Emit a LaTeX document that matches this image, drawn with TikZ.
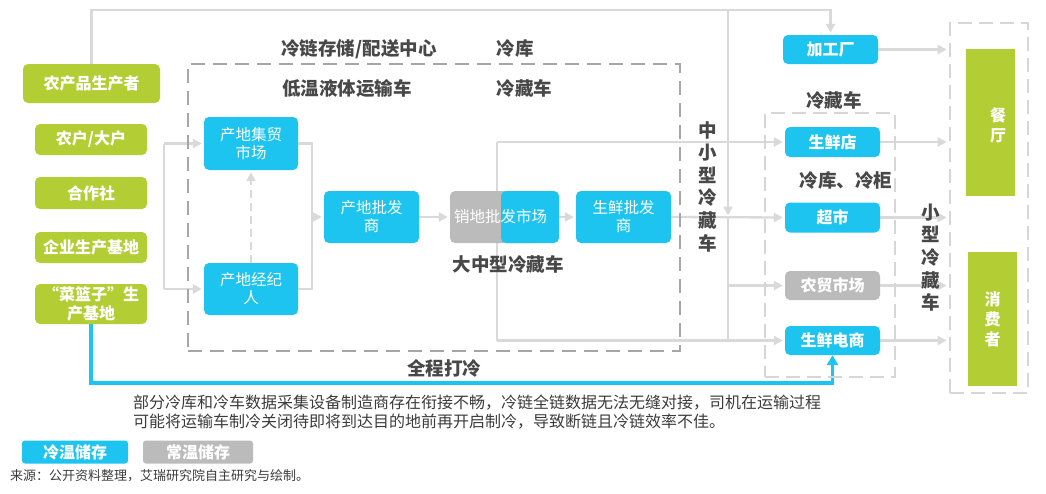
\documentclass[tikz,border=0pt]{standalone}
\usepackage{fontspec}
\setmainfont{Noto Sans CJK SC}
\usetikzlibrary{arrows.meta,backgrounds}
\definecolor{cgreen}{RGB}{178,206,52}
\definecolor{cblue}{RGB}{30,196,240}
\definecolor{cgray}{RGB}{187,187,187}
\definecolor{cline}{RGB}{217,217,217}
\definecolor{cdash}{RGB}{166,166,166}
\definecolor{cdashl}{RGB}{214,214,214}
\definecolor{ctext}{RGB}{72,72,72}
\definecolor{cbody}{RGB}{60,60,60}
\begin{document}
\begin{tikzpicture}[x=1pt,y=-1pt,
  box/.style={rounded corners=5pt, inner sep=0pt, text=white, align=center,
    font=\fontsize{15.5}{18}\selectfont},
  gbox/.style={box, fill=cgreen, font=\fontsize{16}{19}\selectfont\bfseries},
  bbox/.style={box, fill=cblue},
  graybox/.style={box, fill=cgray},
  lab/.style={inner sep=0pt, text=ctext, font=\fontsize{18.5}{22.6}\selectfont\bfseries, align=center},
  conn/.style={draw=cline, line width=2.3pt},
  arr/.style={-{Triangle[length=9pt,width=9pt]}, shorten >=2pt},
  bline/.style={draw=cblue, line width=3.2pt, -{Triangle[length=10pt,width=11pt]}},
  bigdash/.style={draw=cdash, line width=2.8pt, dash pattern=on 14pt off 8pt, inner sep=0pt},
  lightdash/.style={draw=cdashl, line width=2.8pt, dash pattern=on 14pt off 7pt, inner sep=0pt}
]
\useasboundingbox (0,0) rectangle (1046,493);
% dashed regions
\node[bigdash, minimum width=492pt, minimum height=287pt] (center) at (434,207.5) {};
\node[lightdash, minimum width=130pt, minimum height=264pt] (sbox) at (830,245) {};
\node[lightdash, minimum width=78pt, minimum height=370pt] (cbox) at (989,208) {};
% producers
\node[gbox, minimum width=137pt, minimum height=39pt] (p0) at (91.5,83.5) {农产品生产者};
\node[gbox, minimum width=112pt, minimum height=31pt] (p1) at (91,139.5) {农户/大户};
\node[gbox, minimum width=112pt, minimum height=32pt] (p2) at (91,193) {合作社};
\node[gbox, minimum width=112pt, minimum height=31pt] (p3) at (91,247.5) {企业生产基地};
\node[gbox, minimum width=112pt, minimum height=40pt, font=\fontsize{16}{19}\selectfont\bfseries] (p4) at (91,304) {“菜篮子”生\\产基地};
% chain nodes
\node[bbox, minimum width=94pt, minimum height=53pt] (b1) at (251,143.5) {产地集贸\\市场};
\node[bbox, minimum width=94pt, minimum height=52pt] (b2) at (251,289) {产地经纪\\人};
\node[bbox, minimum width=95pt, minimum height=52pt] (b3) at (371.5,217) {产地批发\\商};
\node[graybox, minimum width=90pt, minimum height=52pt] (gx) at (495,217) {};
\node[bbox, minimum width=58pt, minimum height=52pt] (bx) at (530,217) {};
\node[inner sep=0pt, text=white, font=\fontsize{15.5}{18}\selectfont] (tx) at (500.5,217) {销地批发市场};
\node[bbox, minimum width=95pt, minimum height=52pt] (b5) at (623.5,217) {生鲜批发\\商};
% retail nodes
\node[bbox, minimum width=95pt, minimum height=29pt, font=\fontsize{16}{19}\selectfont\bfseries] (b6) at (830.5,49.5) {加工厂};
\node[bbox, minimum width=95pt, minimum height=30pt, font=\fontsize{16}{19}\selectfont\bfseries] (b7) at (832.5,142) {生鲜店};
\node[bbox, minimum width=95pt, minimum height=30pt, font=\fontsize{16}{19}\selectfont\bfseries] (b8) at (832.5,217.5) {超市};
\node[graybox, minimum width=95pt, minimum height=29pt, font=\fontsize{16}{19}\selectfont\bfseries] (g9) at (832.5,285.5) {农贸市场};
\node[bbox, minimum width=95pt, minimum height=29pt, font=\fontsize{16}{19}\selectfont\bfseries] (b10) at (832.5,340.5) {生鲜电商};
% consumers
\node[fill=cgreen, inner sep=0pt, minimum width=49pt, minimum height=147pt] (gr) at (990.5,122.5) {};
\node[inner sep=0pt, text=white, align=center, font=\fontsize{16}{20}\selectfont\bfseries] (tr) at (998,125) {餐\\厅};
\node[fill=cgreen, inner sep=0pt, minimum width=49pt, minimum height=134pt, text=white, align=center, font=\fontsize{16}{20}\selectfont\bfseries] (gc) at (992.5,319) {消\\费\\者};
% labels
\node[lab] (l1) at (359,49) {冷链存储/配送中心};
\node[lab] (l2) at (515,48) {冷库};
\node[lab] (l3) at (347,88) {低温液体运输车};
\node[lab] (l4) at (524.5,88) {冷藏车};
\node[lab] (l5) at (508,264) {大中型冷藏车};
\node[lab] (l6) at (708,186.5) {中\\小\\型\\冷\\藏\\车};
\node[lab] (l7) at (834,100) {冷藏车};
\node[lab] (l8) at (846,180) {冷库、冷柜};
\node[lab] (l9) at (931,257.5) {小\\型\\冷\\藏\\车};
\node[lab] (l10) at (444,368) {全程打冷};
% body text
\node[anchor=west, inner sep=0pt, text=cbody, font=\fontsize{16}{18}\selectfont] (n1) at (133,403) {部分冷库和冷车数据采集设备制造商存在衔接不畅，冷链全链数据无法无缝对接，司机在运输过程};
\node[anchor=west, inner sep=0pt, text=cbody, font=\fontsize{16}{18}\selectfont] (n2) at (133,422) {可能将运输车制冷关闭待即将到达目的地前再开启制冷，导致断链且冷链效率不佳。};
% legend
\node[bbox, rounded corners=3pt, minimum width=106pt, minimum height=23pt, font=\fontsize{16}{19}\selectfont\bfseries] (lg1) at (75,452) {冷温储存};
\node[graybox, rounded corners=3pt, minimum width=110pt, minimum height=23pt, font=\fontsize{16}{19}\selectfont\bfseries] (lg2) at (198,452) {常温储存};
\node[anchor=west, inner sep=0pt, text=cbody, font=\fontsize{13}{15}\selectfont] (src) at (10,476) {来源：公开资料整理，艾瑞研究院自主研究与绘制。};
% coordinates
\coordinate (topL) at (91.5,10);
\coordinate (topR) at (830.5,10);
\coordinate (vT) at (728,10);
\coordinate (vA) at (728,217.5);
\coordinate (vF) at (728,285.5);
\coordinate (vB) at (728,340.5);
\coordinate (rT) at (497,142);
\coordinate (rB) at (497,340.5);
\coordinate (lT) at (164,143.5);
\coordinate (lB) at (164,289);
\coordinate (mT) at (312,143.5);
\coordinate (mM) at (312,217);
\coordinate (mB) at (312,289);
\coordinate (qL) at (91,383);
\coordinate (qR) at (832.5,383);
\begin{scope}[on background layer]
\fill[white] (0,0) rectangle (1046,493);
\draw[conn,arr] (p0.north) -- (topL) -- (topR) -- (b6.north);
\draw[conn,arr] (vT) -- (vA);
\draw[conn] (vA) -- (vB);
\draw[conn,arr] (vF) -- (g9.west);
\draw[conn,arr] (rT) -- (b7.west);
\draw[conn] (rT) -- (rB);
\draw[conn,arr] (rB) -- (b10.west);
\draw[conn,arr] (b5.east) -- (b8.west);
\draw[conn,arr] (lT) -- (b1.west);
\draw[conn] (lT) -- (lB);
\draw[conn,arr] (lB) -- (b2.west);
\draw[conn,arr,dash pattern=on 8pt off 5pt] (b2.north) -- (b1.south);
\draw[conn] (b1.east) -- (mT) -- (mB) -- (b2.east);
\draw[conn,arr] (mM) -- (b3.west);
\draw[conn,arr] (b3.east) -- (gx.west);
\draw[conn,arr] (bx.east) -- (b5.west);
\draw[conn,arr] (b6.east) -- (b6.east -| cbox.west);
\draw[conn,arr] (b7.east) -- (b7.east -| cbox.west);
\draw[conn,arr] (b8.east) -- (b8.east -| cbox.west);
\draw[conn,arr] (g9.east) -- (g9.east -| cbox.west);
\draw[conn,arr] (b10.east) -- (b10.east -| cbox.west);
\draw[bline] (p4.south) -- (qL) -- (qR) -- (b10.south);
\end{scope}
\end{tikzpicture}
\end{document}
